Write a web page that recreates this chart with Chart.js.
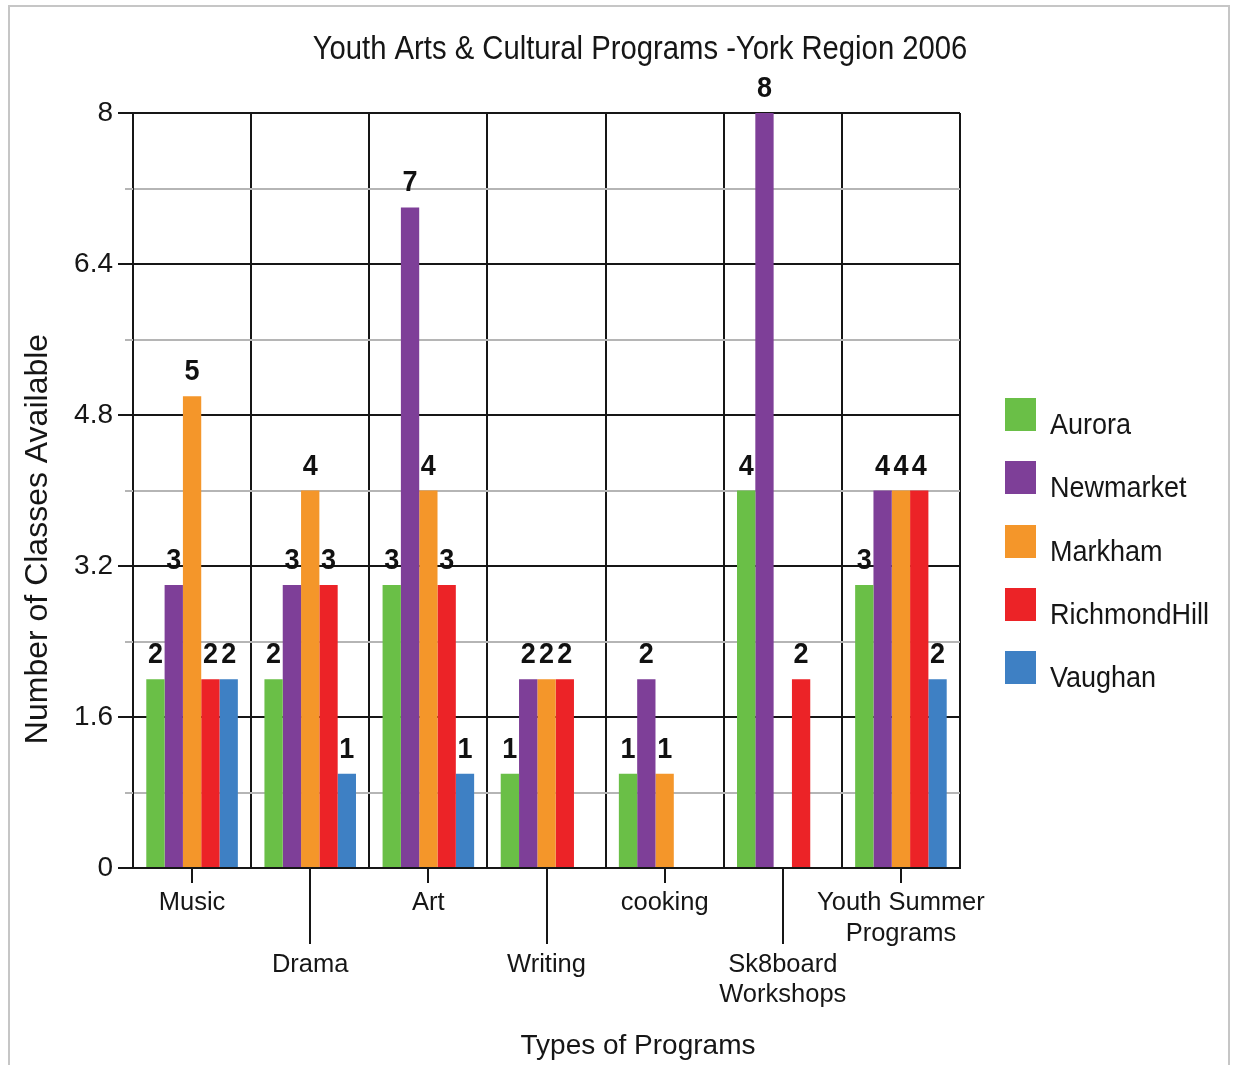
<!DOCTYPE html>
<html>
<head>
<meta charset="utf-8">
<title>Youth Arts &amp; Cultural Programs - York Region 2006</title>
<script src="https://cdn.jsdelivr.net/npm/chart.js@4.4.0/dist/chart.umd.min.js"></script>
<style>
  html, body { margin: 0; padding: 0; background: #ffffff; overflow: hidden; }
  #wrap { position: relative; width: 1235px; height: 1065px; }
  #frame {
    position: absolute; left: 8px; top: 5px; width: 1222px; height: 1100px;
    border: 2px solid #c6c6c6; pointer-events: none; box-sizing: border-box;
  }
  canvas { position: absolute; left: 0; top: 0; }
</style>
</head>
<body>
<div id="wrap">
  <canvas id="chart" width="1235" height="1065"></canvas>
  <div id="frame"></div>
</div>
<script>
// Program categories (x axis)
const programs = ['Music', 'Drama', 'Art', 'Writing', 'cooking', ['Sk8board', 'Workshops'], ['Youth Summer', 'Programs']];

// Number of classes available per town
const aurora       = [2, 2, 3, 1, 1, 4, 3];
const newmarket    = [3, 3, 7, 2, 2, 8, 4];
const markham      = [5, 4, 4, 2, 1, 0, 4];
const richmondHill = [2, 3, 3, 2, 0, 2, 4];
const vaughan      = [2, 1, 1, 0, 0, 0, 2];

const townNames  = ['Aurora', 'Newmarket', 'Markham', 'RichmondHill', 'Vaughan'];
const townColors = ['#6abf47', '#7e3f98', '#f4962a', '#ec2327', '#3e80c4'];

// Y axis: gridline values (every other one is labelled)
const yTickValues = [0, 0.8, 1.6, 2.4, 3.2, 4.0, 4.8, 5.6, 6.4, 7.2, 8];
const yTickLabels = ['0', '', '1.6', '', '3.2', '', '4.8', '', '6.4', '', '8'];

const chartTitle = 'Youth Arts & Cultural Programs -York Region 2006';
const xTitle = 'Types of Programs';
const yTitle = 'Number of Classes Available';

const FONT = '"Liberation Sans", Arial, Helvetica, sans-serif';
const INK = '#161616';
const MAJOR = '#161616';
const MINOR = '#b5b5b5';
const SQUEEZE = 0.9; // narrow-set lettering for titles, legend and value labels

Chart.defaults.font.family = FONT;
Chart.defaults.color = INK;

const seriesValues = [aurora, newmarket, markham, richmondHill, vaughan];

function fillNarrow(ctx, text, x, y) {
  ctx.save();
  ctx.translate(x, y);
  ctx.scale(SQUEEZE, 1);
  ctx.fillText(text, 0, 0);
  ctx.restore();
}

// Value labels sit behind the bars, above each bar's top
const valueLabels = {
  id: 'valueLabels',
  beforeDatasetsDraw(chart) {
    const ctx = chart.ctx;
    ctx.save();
    ctx.font = 'bold 30px ' + FONT;
    ctx.fillStyle = '#111111';
    ctx.textAlign = 'center';
    ctx.textBaseline = 'alphabetic';
    chart.data.datasets.forEach((ds, di) => {
      const meta = chart.getDatasetMeta(di);
      meta.data.forEach((bar, i) => {
        const v = ds.data[i];
        if (!v) return;
        fillNarrow(ctx, String(v), bar.x, bar.y - 16);
      });
    });
    ctx.restore();
  }
};

// Tick marks: staggered category ticks below the x axis, long/short ticks left of the y axis
const tickMarks = {
  id: 'tickMarks',
  afterDraw(chart) {
    const ctx = chart.ctx;
    const xs = chart.scales.x, ys = chart.scales.y;
    const area = chart.chartArea;
    ctx.save();
    ctx.lineWidth = 2;
    ctx.strokeStyle = MAJOR;
    xs.ticks.forEach((t, i) => {
      const x = Math.round(xs.getPixelForTick(i));
      const len = i % 2 === 0 ? 15 : 76;
      ctx.beginPath();
      ctx.moveTo(x, area.bottom);
      ctx.lineTo(x, area.bottom + len);
      ctx.stroke();
    });
    ys.ticks.forEach((t, i) => {
      const y = Math.round(ys.getPixelForTick(i));
      const major = i % 2 === 0;
      ctx.strokeStyle = major ? MAJOR : MINOR;
      ctx.beginPath();
      ctx.moveTo(area.left - (major ? 15 : 8), y);
      ctx.lineTo(area.left, y);
      ctx.stroke();
    });
    ctx.restore();
  }
};

// Chart title, axis titles and the legend on the right
const textBlocks = {
  id: 'textBlocks',
  afterDraw(chart) {
    const ctx = chart.ctx;
    ctx.save();
    ctx.fillStyle = INK;
    ctx.textBaseline = 'alphabetic';

    ctx.font = '32.5px ' + FONT;
    ctx.textAlign = 'center';
    fillNarrow(ctx, chartTitle, 640, 59);

    ctx.font = '28px ' + FONT;
    ctx.fillText(xTitle, 638, 1054);

    ctx.save();
    ctx.translate(38, 539);
    ctx.rotate(-Math.PI / 2);
    ctx.font = '32px ' + FONT;
    ctx.textBaseline = 'middle';
    ctx.fillText(yTitle, 0, 0);
    ctx.restore();

    ctx.font = '30px ' + FONT;
    ctx.textAlign = 'left';
    chart.data.datasets.forEach((ds, i) => {
      const top = 398 + i * 63.3;
      ctx.fillStyle = ds.backgroundColor;
      ctx.fillRect(1005, Math.round(top), 31, 33);
      ctx.fillStyle = INK;
      fillNarrow(ctx, ds.label, 1050, Math.round(top + 36));
    });
    ctx.restore();
  }
};

new Chart(document.getElementById('chart'), {
  type: 'bar',
  data: {
    labels: programs,
    datasets: townNames.map((name, i) => ({
      label: name,
      data: seriesValues[i],
      backgroundColor: townColors[i],
      borderWidth: 0,
      categoryPercentage: 0.775,
      barPercentage: 1.0
    }))
  },
  options: {
    responsive: false,
    animation: false,
    events: [],
    layout: { padding: { top: 113, right: 275, bottom: 0, left: 0 } },
    plugins: {
      legend: { display: false },
      title: { display: false },
      tooltip: { enabled: false }
    },
    scales: {
      x: {
        offset: true,
        grid: { offset: true, color: MAJOR, lineWidth: 2, drawTicks: false },
        border: { display: true, color: MAJOR, width: 2 },
        ticks: {
          autoSkip: false,
          maxRotation: 0,
          minRotation: 0,
          padding: 20,
          color: INK,
          font: { size: 25.5, lineHeight: 1.2 },
          callback: function (value, i) {
            const lbl = [].concat(this.getLabelForValue(value));
            return i % 2 === 0 ? lbl : ['', ''].concat(lbl);
          }
        },
        afterFit: (scale) => { scale.height = 197; }
      },
      y: {
        min: 0,
        max: 8,
        afterBuildTicks: (scale) => { scale.ticks = yTickValues.map(v => ({ value: v })); },
        grid: {
          drawTicks: false,
          lineWidth: 2,
          color: (c) => (c.index % 2 === 0 ? MAJOR : MINOR)
        },
        border: { display: true, color: MAJOR, width: 2 },
        ticks: {
          padding: 20,
          color: INK,
          font: { size: 28 },
          callback: (value, i) => yTickLabels[i]
        },
        afterFit: (scale) => { scale.width = 133; }
      }
    }
  },
  plugins: [valueLabels, tickMarks, textBlocks]
});
</script>
</body>
</html>
